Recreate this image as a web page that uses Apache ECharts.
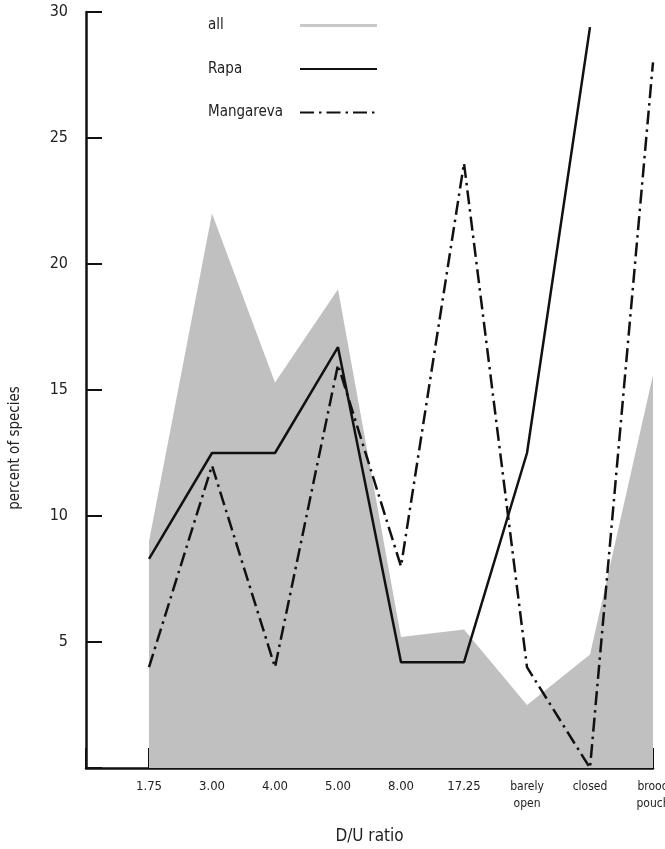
<!DOCTYPE html>
<html>
<head>
<meta charset="utf-8">
<script src="https://cdn.jsdelivr.net/npm/echarts@6/dist/echarts.min.js"></script>
<style>
  html, body { margin: 0; padding: 0; background: #fff; }
  #chart { width: 665px; height: 849px; }
</style>
</head>
<body>
<div id="chart"></div>
<script>
// Categories (first slot empty: the axis starts one step before 1.75)
const categories = ['', '1.75', '3.00', '4.00', '5.00', '8.00', '17.25', 'barely\nopen', 'closed', 'brood\npouch'];
// Series values (percent of species); '-' = no value in the empty slot
const allValues = ['-', 9, 22, 15.3, 19, 5.2, 5.5, 2.5, 4.5, 15.6];
const rapaValues = ['-', 8.3, 12.5, 12.5, 16.7, 4.2, 4.2, 12.5, 29.4, '-'];
const mangarevaValues = ['-', 4, 12, 4, 16, 8, 24, 4, 0, 28];
// Y tick values
const yMin = 0, yMax = 30, yStep = 5;

const FONT = '"Liberation Sans Narrow", "DejaVu Sans Condensed", "Liberation Sans", sans-serif';
const TEXT = '#222';

const chart = echarts.init(document.getElementById('chart'), null, { renderer: 'canvas' });

chart.setOption({
  animation: false,
  backgroundColor: '#ffffff',
  grid: { left: 86, right: 12, top: 12, bottom: 81, containLabel: false, outerBoundsMode: 'none' },
  legend: {
    orient: 'vertical',
    left: 203,
    top: 13,
    align: 'right',
    itemWidth: 77,
    itemHeight: 14,
    itemGap: 28.5,
    formatter: function (name) { return '{a|' + name + '}'; },
    textStyle: {
      fontFamily: FONT, fontSize: 15, color: TEXT, lineHeight: 14,
      rich: { a: { width: 87, align: 'left', fontFamily: FONT, fontSize: 15, color: TEXT, lineHeight: 14 } }
    },
    data: [
      { name: 'all', icon: 'path://M0,0H77V3H0Z', itemStyle: { color: '#c8c8c8', opacity: 1 } },
      { name: 'Rapa', itemStyle: { opacity: 0 } },
      { name: 'Mangareva', itemStyle: { opacity: 0 } }
    ]
  },
  xAxis: {
    type: 'category',
    data: categories,
    boundaryGap: false,
    name: 'D/U ratio',
    nameLocation: 'middle',
    nameGap: 60,
    nameTextStyle: { fontFamily: FONT, fontSize: 17, color: TEXT },
    axisLine: { lineStyle: { color: '#111', width: 2.5 } },
    axisTick: {
      show: true, inside: true, length: 20, interval: 0,
      lineStyle: { color: '#111', width: 2 }
    },
    axisLabel: {
      interval: 0,
      margin: 10,
      color: TEXT,
      fontFamily: FONT,
      fontSize: 13,
      lineHeight: 17,
      formatter: function (v) {
        if (v === 'closed' || v.indexOf('\n') >= 0) {
          return v.split('\n').map(function (s) { return '{s|' + s + '}'; }).join('\n');
        }
        return v;
      },
      rich: { s: { fontFamily: FONT, fontSize: 12, color: TEXT, lineHeight: 17 } }
    },
    splitLine: { show: false }
  },
  yAxis: {
    type: 'value',
    min: yMin,
    max: yMax,
    interval: yStep,
    axisLine: { show: true, lineStyle: { color: '#111', width: 2.5 } },
    axisTick: { show: true, inside: true, length: 16, lineStyle: { color: '#111', width: 2 } },
    axisLabel: {
      margin: 18,
      color: TEXT,
      fontFamily: FONT,
      fontSize: 16,
      formatter: function (v) { return v === 0 ? '' : String(v); }
    },
    splitLine: { show: false }
  },
  graphic: [{
    type: 'text',
    x: 15,
    y: 448,
    rotation: Math.PI / 2,
    style: {
      text: 'percent of species',
      fontFamily: FONT,
      fontSize: 15,
      fill: TEXT,
      align: 'center',
      verticalAlign: 'middle'
    }
  }],
  series: [
    {
      name: 'all',
      type: 'line',
      data: allValues,
      symbol: 'none',
      z: 1,
      lineStyle: { width: 0, color: '#c0c0c0' },
      itemStyle: { color: '#c0c0c0' },
      areaStyle: { color: '#c0c0c0', opacity: 1 }
    },
    {
      name: 'Rapa',
      type: 'line',
      data: rapaValues,
      symbol: 'none',
      z: 3,
      lineStyle: { color: '#111', width: 2.5 },
      itemStyle: { color: '#111' }
    },
    {
      name: 'Mangareva',
      type: 'line',
      data: mangarevaValues,
      symbol: 'none',
      z: 3,
      lineStyle: { color: '#111', width: 2.5, type: [14, 5, 2.5, 5] },
      itemStyle: { color: '#111' }
    }
  ]
});
</script>
</body>
</html>
